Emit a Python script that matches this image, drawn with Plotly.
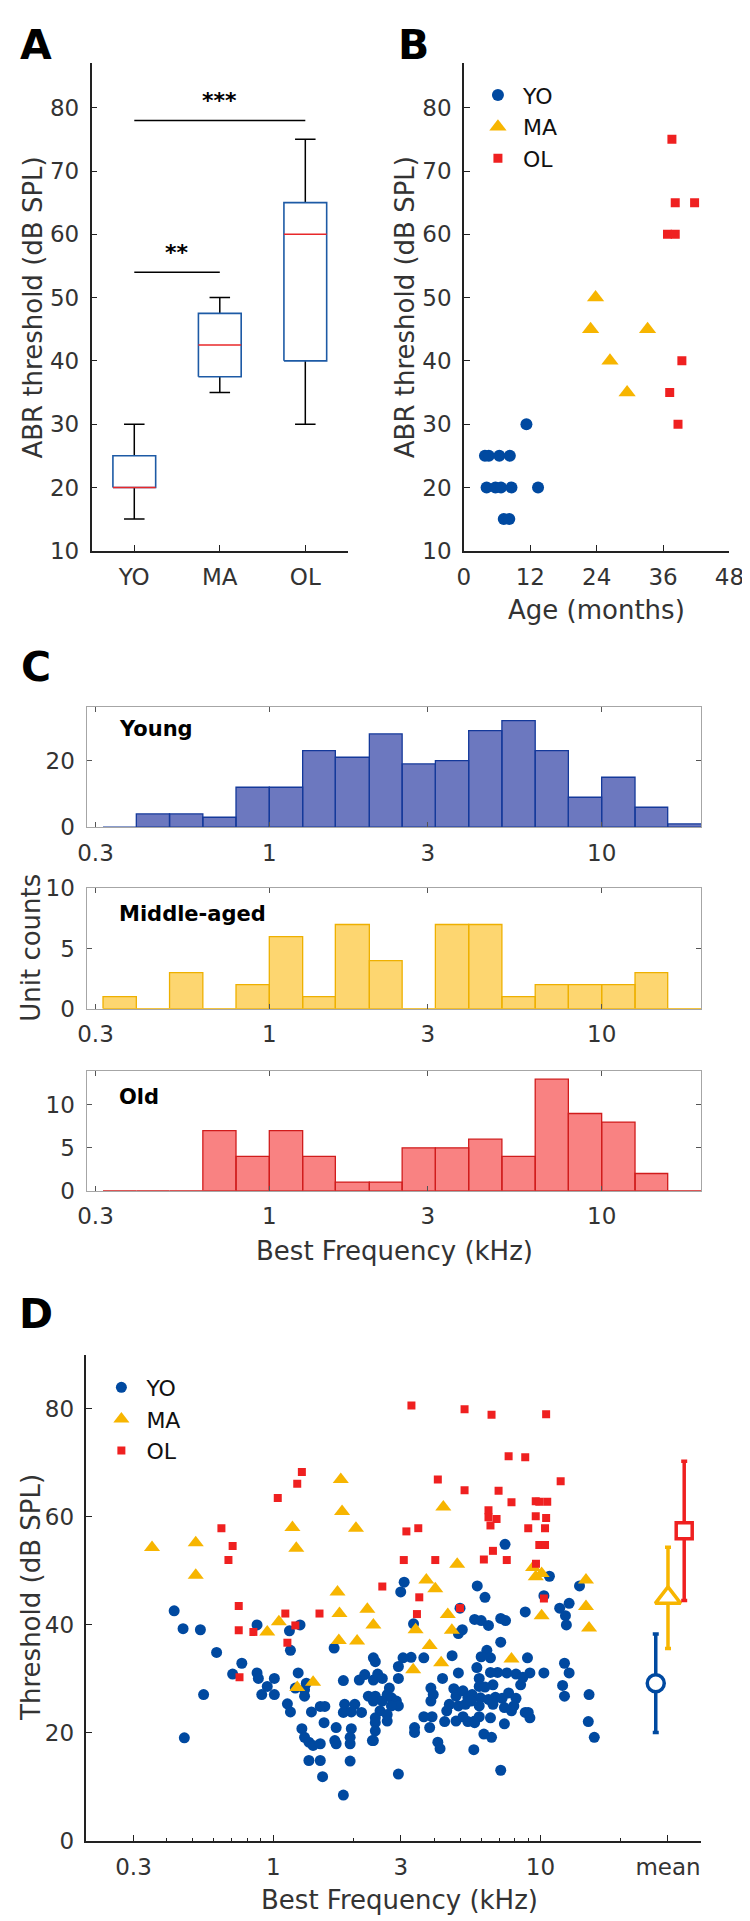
import numpy as np
import plotly.graph_objects as go

W, H = 750, 1921
FONT = "DejaVu Sans, Liberation Sans, Arial, sans-serif"
TXT = "#333333"
AX = "#222222"
C_YO, C_MA, C_OL = "#0049a0", "#f7b500", "#ef2020"
C_BOX = "#1d5aa5"

# ---------------- Panel A : ABR threshold box plot ----------------
groups = ["YO", "MA", "OL"]
box_q1 = [20, 37.5, 40]
box_med = [20, 42.5, 60]
box_q3 = [25, 47.5, 65]
box_lo = [15, 35, 30]
box_hi = [30, 50, 75]
sig_from = [1, 1]
sig_to = [2, 3]
sig_level = [54, 78]
sig_text = ["**", "***"]

# ---------------- Panel B : ABR threshold vs age ----------------
yo_age = [11.3, 3.8, 4.5, 6.4, 8.3, 4.1, 5.7, 6.7, 8.6, 13.4, 7.2, 8.2]
yo_abr = [30, 25, 25, 25, 25, 20, 20, 20, 20, 20, 15, 15]
ma_age = [23.8, 22.9, 33.2, 26.4, 29.5]
ma_abr = [50, 45, 45, 40, 35]
ol_age = [37.6, 38.2, 41.7, 36.8, 38.2, 39.4, 37.2, 38.7]
ol_abr = [75, 65, 65, 60, 60, 40, 35, 30]

# ---------------- Panel C : BF histograms ----------------
bin_edges_khz = [0.316, 0.398, 0.501, 0.631, 0.794, 1.0, 1.26, 1.58, 2.0, 2.51,
                 3.16, 3.98, 5.01, 6.31, 7.94, 10.0, 12.6, 15.8, 20.0]
young_counts = [0, 4, 4, 3, 12, 12, 23, 21, 28, 19, 20, 29, 32, 23, 9, 15, 6, 1]
middle_counts = [1, 0, 3, 0, 2, 6, 1, 7, 4, 0, 7, 7, 1, 2, 2, 2, 3, 0]
old_counts = [0, 0, 0, 7, 4, 7, 4, 1, 1, 5, 5, 6, 4, 13, 9, 8, 2, 0]

# ---------------- Panel D : threshold vs BF ----------------
yo_bf = [7.37, 3.09, 10.8, 5.8, 14.0, 3.0, 6.2, 10.3, 12.8, 11.8, 5.0, 8.77, 0.426, 7.1, 7.4, 5.67, 6.0, 6.39,
         12.4, 12.5, 3.35, 5.1, 4.93, 0.87, 1.26, 1.15, 0.46, 0.534, 1.16, 0.614, 1.69, 7.1, 6.3, 6.5, 6.0, 4.67,
         3.66, 3.28, 3.06, 2.37, 2.41, 8.94, 0.763, 12.3, 12.8, 10.3, 9.13, 8.1, 7.48, 6.91, 6.5, 5.78, 4.93,
         2.94, 1.24, 0.705, 0.87, 1.01, 0.88, 0.95, 0.906, 1.01, 0.549, 1.33, 1.31, 1.31, 1.83, 2.1, 2.2, 2.37,
         2.46, 2.56, 2.94, 2.72, 5.9, 6.64, 5.9, 6.2, 8.43, 8.6, 12.1, 12.3, 15.2, 7.6, 8.1, 3.89, 3.97, 3.89,
         4.3, 4.74, 4.83, 5.13, 5.35, 5.55, 5.96, 6.78, 7.19, 6.39, 4.56, 4.46, 4.93, 5.24, 5.5, 5.9, 6.64, 7.33,
         7.79, 7.95, 2.27, 2.41, 2.37, 2.56, 2.67, 2.77, 2.89, 2.94, 2.77, 2.51, 2.67, 2.41, 2.67, 2.41, 2.41,
         2.37, 1.85, 1.83, 2.02, 2.14, 1.96, 1.13, 1.16, 1.39, 1.50, 1.56, 1.55, 1.72, 1.28, 1.96, 3.93, 3.66,
         4.38, 4.83, 5.13, 5.35, 5.67, 5.9, 6.5, 9.13, 8.77, 7.33, 5.67, 3.38, 3.38, 3.85, 15.1, 1.31, 1.36,
         1.41, 1.50, 1.70, 1.72, 1.94, 1.94, 2.35, 4.13, 4.21, 6.14, 6.56, 5.63, 15.9, 0.465, 1.36, 1.50, 1.94,
         1.53, 2.94, 7.1, 1.83, 9.0, 1.21]
yo_thr = [54.9, 47.9, 49.0, 47.2, 47.2, 46.1, 45.1, 45.4, 44.0, 43.1, 43.1, 42.4, 42.6, 41.2, 40.8, 41.0, 40.8, 39.9,
          41.7, 40.0, 40.2, 39.1, 38.4, 40.0, 40.0, 38.9, 39.3, 39.1, 35.3, 34.9, 35.7, 36.8, 35.3, 33.9, 34.1, 34.3,
          33.9, 34.0, 33.9, 33.9, 33.2, 33.9, 32.9, 32.9, 31.1, 31.1, 31.1, 30.9, 31.1, 31.2, 31.2, 32.1, 31.1,
          32.3, 31.1, 30.9, 31.1, 30.1, 30.1, 28.6, 27.1, 27.1, 27.1, 29.2, 28.0, 26.8, 29.7, 29.8, 30.8, 29.8,
          30.9, 30.1, 30.1, 28.3, 30.1, 28.9, 28.6, 28.5, 28.9, 30.3, 28.8, 26.8, 27.1, 27.4, 26.4, 28.3, 27.1, 25.9,
          30.1, 28.2, 26.8, 27.8, 26.5, 27.1, 26.5, 26.6, 26.4, 26.2, 25.3, 24.1, 25.0, 25.3, 25.9, 25.0, 25.3, 24.7,
          24.1, 25.0, 26.8, 26.8, 25.9, 25.9, 27.1, 26.5, 25.9, 25.0, 25.0, 24.1, 23.4, 22.8, 22.2, 21.9, 20.4,
          18.6, 25.3, 23.8, 25.3, 23.8, 23.9, 25.4, 23.9, 23.9, 24.9, 24.9, 21.9, 21.0, 20.8, 20.8, 23.0, 23.0,
          22.1, 22.2, 23.0, 22.1, 22.2, 23.0, 22.8, 22.8, 23.8, 21.7, 21.9, 21.0, 20.1, 21.0, 22.1, 19.2, 18.3,
          17.7, 18.0, 18.6, 18.0, 18.0, 19.2, 18.6, 18.3, 17.1, 19.8, 19.2, 16.9, 19.2, 19.1, 14.9, 14.9, 14.8,
          11.9, 12.4, 13.1, 8.5, 23.8, 28.3]
ma_bf = [0.352, 0.513, 0.513, 1.18, 1.22, 1.79, 1.81, 2.04, 4.33, 4.88, 9.38, 9.6, 10.1, 14.8, 3.74, 4.04, 1.74,
         2.25, 1.77, 4.5, 14.8, 10.1, 1.05, 0.95, 2.37, 3.41, 4.66, 15.2, 1.76, 2.06, 3.85, 4.25, 7.79, 3.34, 1.41,
         1.23]
ma_thr = [54.3, 55.2, 49.2, 58.0, 54.2, 66.9, 61.0, 57.9, 61.8, 51.2, 50.6, 48.9, 49.5, 48.3, 48.3, 46.7, 46.1,
          42.9, 42.1, 41.9, 43.4, 41.7, 40.6, 38.7, 40.0, 39.1, 39.0, 39.4, 37.1, 37.0, 36.2, 33.0, 33.7, 31.7, 29.4,
          28.4]
ol_bf = [3.29, 5.2, 6.56, 10.5, 7.6, 8.77, 1.28, 1.23, 4.13, 11.9, 1.04, 5.2, 6.97, 7.79, 9.6, 9.9, 10.6, 6.39, 6.39,
         6.85, 9.6, 10.5, 0.64, 3.15, 3.49, 6.5, 9.0, 10.4, 0.705, 9.9, 10.4, 6.64, 0.68, 3.08, 4.04, 6.14, 7.48, 9.62,
         2.56, 3.52, 10.3, 5.0, 0.743, 1.11, 1.49, 3.45, 1.21, 0.743, 0.843, 1.13, 0.748]
ol_thr = [80.6, 79.9, 78.9, 79.0, 71.2, 71.0, 68.3, 66.1, 66.9, 66.6, 63.5, 64.9, 64.8, 62.7, 62.9, 62.8, 62.8, 61.2,
          59.9, 59.6, 60.1, 59.8, 57.9, 57.3, 57.9, 58.4, 57.9, 57.9, 54.6, 54.8, 54.8, 53.7, 52.0, 52.0, 52.0, 52.1,
          52.0, 51.3, 47.1, 45.1, 44.9, 43.1, 43.5, 42.1, 42.1, 42.0, 39.9, 39.0, 38.7, 36.7, 30.3]
mean_thr = [29.2, 45.0, 57.4]
mean_sd = [9.1, 9.35, 12.9]
mean_pos_khz = 30          # position of the "mean" column on the BF axis
mean_offset = [0.9, 1.0, 1.15]

# ---------------- helpers ----------------
def px(x):
    return x / W

def py(y):
    return 1 - y / H

fig = go.Figure()
TICK = 23

def axis(**kw):
    d = dict(showline=True, linecolor=AX, linewidth=1.5, ticks="inside", ticklen=6, tickwidth=1.3,
             tickcolor=AX, showgrid=False, zeroline=False, ticklabeloverflow="allow",
             tickfont=dict(family=FONT, size=TICK, color=TXT))
    d.update(kw)
    return d

# ---- Panel A drawing
bx, by, mx, my, wx, wy = [], [], [], [], [], []
hw, cw = 0.25, 0.12
for i in range(len(groups)):
    c = i + 1
    bx += [c - hw, c + hw, c + hw, c - hw, c - hw, None]
    by += [box_q1[i], box_q1[i], box_q3[i], box_q3[i], box_q1[i], None]
    mx += [c - hw, c + hw, None]
    my += [box_med[i], box_med[i], None]
    wx += [c, c, None, c, c, None, c - cw, c + cw, None, c - cw, c + cw, None]
    wy += [box_q3[i], box_hi[i], None, box_lo[i], box_q1[i], None,
           box_hi[i], box_hi[i], None, box_lo[i], box_lo[i], None]
fig.add_trace(go.Scatter(x=wx, y=wy, mode="lines", line=dict(color="black", width=1.5),
                         xaxis="x", yaxis="y", showlegend=False, hoverinfo="skip"))
fig.add_trace(go.Scatter(x=bx, y=by, mode="lines", line=dict(color=C_BOX, width=1.6),
                         xaxis="x", yaxis="y", showlegend=False, hoverinfo="skip"))
fig.add_trace(go.Scatter(x=mx, y=my, mode="lines", line=dict(color="#e8282a", width=1.5),
                         xaxis="x", yaxis="y", showlegend=False, hoverinfo="skip"))
sx, sy = [], []
for a, b, lv in zip(sig_from, sig_to, sig_level):
    sx += [a, b, None]
    sy += [lv, lv, None]
fig.add_trace(go.Scatter(x=sx, y=sy, mode="lines", line=dict(color="black", width=1.5),
                         xaxis="x", yaxis="y", showlegend=False, hoverinfo="skip"))
annotations = []
for a, b, lv, t in zip(sig_from, sig_to, sig_level, sig_text):
    annotations.append(dict(x=(a + b) / 2, y=lv + 0.8, xref="x", yref="y", text=f"<b>{t}</b>",
                            showarrow=False, yanchor="bottom",
                            font=dict(family=FONT, size=22, color="black")))

# ---- Panel B
fig.add_trace(go.Scatter(x=yo_age, y=yo_abr, mode="markers", name="YO",
                         marker=dict(symbol="circle", size=12, color=C_YO),
                         xaxis="x2", yaxis="y2", legend="legend"))
fig.add_trace(go.Scatter(x=ma_age, y=ma_abr, mode="markers", name="MA",
                         marker=dict(symbol="triangle-up", size=15, color=C_MA),
                         xaxis="x2", yaxis="y2", legend="legend"))
fig.add_trace(go.Scatter(x=ol_age, y=ol_abr, mode="markers", name="OL",
                         marker=dict(symbol="square", size=9, color=C_OL),
                         xaxis="x2", yaxis="y2", legend="legend"))

# ---- Panel C histograms
def hist_poly(counts):
    xs, ys = [], []
    for i, c in enumerate(counts):
        a, b = bin_edges_khz[i], bin_edges_khz[i + 1]
        xs += [a, a, b, b, a, None]
        ys += [0, c, c, 0, 0, None]
    return xs, ys

hist_specs = [(young_counts, "x3", "y3", "#6c78bf", "#14399a"),
              (middle_counts, "x4", "y4", "#fdd670", "#eeb000"),
              (old_counts, "x5", "y5", "#f98282", "#d01c1c")]
for counts, xa, ya, fc, lc in hist_specs:
    xs, ys = hist_poly(counts)
    fig.add_trace(go.Scatter(x=xs, y=ys, mode="lines", fill="toself", fillcolor=fc,
                             line=dict(color=lc, width=1.3), xaxis=xa, yaxis=ya,
                             showlegend=False, hoverinfo="skip"))

# ---- Panel D
fig.add_trace(go.Scatter(x=yo_bf, y=yo_thr, mode="markers", name="YO",
                         marker=dict(symbol="circle", size=11, color=C_YO),
                         xaxis="x6", yaxis="y6", legend="legend2"))
fig.add_trace(go.Scatter(x=ma_bf, y=ma_thr, mode="markers", name="MA",
                         marker=dict(symbol="triangle-up", size=14, color=C_MA),
                         xaxis="x6", yaxis="y6", legend="legend2"))
fig.add_trace(go.Scatter(x=ol_bf, y=ol_thr, mode="markers", name="OL",
                         marker=dict(symbol="square", size=8, color=C_OL),
                         xaxis="x6", yaxis="y6", legend="legend2"))
mean_syms = ["circle", "triangle-up", "square"]
mean_sizes = [17, 22, 16]
for k, (col, sym, sz) in enumerate(zip([C_YO, C_MA, C_OL], mean_syms, mean_sizes)):
    fig.add_trace(go.Scatter(x=[mean_pos_khz * mean_offset[k]], y=[mean_thr[k]], mode="markers",
                             marker=dict(symbol=sym, size=sz, color="white", line=dict(color=col, width=3.5)),
                             error_y=dict(type="data", array=[mean_sd[k]], color=col, thickness=3.5, width=3),
                             xaxis="x6", yaxis="y6", showlegend=False, hoverinfo="skip"))

# ---------------- layout / axes ----------------
yA = [py(537), py(43)]
LEG_FONT = dict(family=FONT, size=22, color="#111111")
layout = dict(
    width=W, height=H, margin=dict(l=0, r=0, t=0, b=0),
    paper_bgcolor="white", plot_bgcolor="rgba(0,0,0,0)",
    font=dict(family=FONT, color=TXT),
    xaxis=axis(domain=[px(77), px(342)], range=[0.5, 3.5], tickvals=[1, 2, 3], ticktext=groups,
               anchor="y", ticklabelstandoff=5),
    yaxis=axis(domain=yA, range=[10, 87], tickvals=[10, 20, 30, 40, 50, 60, 70, 80], anchor="x",
               ticklabelstandoff=6),
    xaxis2=axis(domain=[px(461.7), px(736)], range=[0, 48], tickvals=[0, 12, 24, 36, 48], anchor="y2",
                ticklabelstandoff=5),
    yaxis2=axis(domain=yA, range=[10, 87], tickvals=[10, 20, 30, 40, 50, 60, 70, 80], anchor="x2",
                ticklabelstandoff=6),
    xaxis6=axis(domain=[px(71.7), px(707)], type="log", range=[np.log10(0.2), np.log10(40)],
                tickvals=[0.3, 1, 3, 10, 30], ticktext=["0.3", "1", "3", "10", "mean"], anchor="y6",
                ticklabelstandoff=5,
                minor=dict(tickmode="array", tickvals=[0.4, 0.5, 0.6, 0.7, 0.8, 0.9, 2, 4, 5, 6, 7, 8, 9, 20],
                           ticks="inside", ticklen=3.5, tickwidth=1.2, tickcolor=AX)),
    yaxis6=axis(domain=[py(1845), py(1352)], range=[0, 90], tickvals=[0, 20, 40, 60, 80], anchor="x6",
                ticklabelstandoff=6),
    legend=dict(x=px(471), y=py(54), xanchor="left", yanchor="top", bgcolor="rgba(0,0,0,0)",
                font=LEG_FONT, borderwidth=0, itemwidth=40),
    legend2=dict(x=px(82), y=py(1364), xanchor="left", yanchor="top", bgcolor="rgba(0,0,0,0)",
                 font=LEG_FONT, borderwidth=0, itemwidth=40),
)
hist_y = [(817.3, 695.7, 36, [0, 20]), (1001.3, 879.3, 10, [0, 5, 10]), (1185.7, 1064, 14, [0, 5, 10])]
for j, (yb, yt, ymax, tv) in enumerate(hist_y):
    n = j + 3
    layout[f"xaxis{n}"] = axis(domain=[px(71.8), px(707)], type="log", range=[-0.55, 1.30],
                               tickvals=[0.3, 1, 3, 10], ticktext=["0.3", "1", "3", "10"],
                               anchor=f"y{n}", mirror="ticks", linecolor="#a6a6a6", linewidth=1.2,
                               tickcolor="#555555", ticklen=5, ticklabelstandoff=5)
    layout[f"yaxis{n}"] = axis(domain=[py(yb), py(yt)], range=[0, ymax], tickvals=tv, anchor=f"x{n}",
                               mirror="ticks", linecolor="#a6a6a6", linewidth=1.2,
                               tickcolor="#555555", ticklen=5, ticklabelstandoff=6)

def label(x, y, text, size=26, angle=0, bold=False, color=TXT, xanchor="center"):
    t = f"<b>{text}</b>" if bold else text
    annotations.append(dict(x=px(x), y=py(y), xref="paper", yref="paper", text=t, showarrow=False,
                            textangle=angle, xanchor=xanchor, yanchor="middle",
                            font=dict(family=FONT, size=size, color=color)))

# panel letters
for L, (x, y) in zip("ABCD", [(20, 24), (410, 24), (20, 655), (20, 1311)]):
    label(x, y, L, size=41, bold=True, color="black")
# axis titles
label(17, 290, "ABR threshold (dB SPL)", angle=-90)
label(401, 290, "ABR threshold (dB SPL)", angle=-90)
label(599, 597, "Age (months)")
label(15, 940, "Unit counts", angle=-90)
label(390, 1247, "Best Frequency (kHz)")
label(15, 1598, "Threshold (dB SPL)", angle=-90)
label(395, 1905, "Best Frequency (kHz)")
# histogram inner labels
label(103, 718, "Young", size=21, bold=True, color="black", xanchor="left")
label(103, 905, "Middle-aged", size=21, bold=True, color="black", xanchor="left")
label(103, 1091, "Old", size=21, bold=True, color="black", xanchor="left")

layout["annotations"] = annotations
fig.update_layout(**layout)
fig.write_html("out.html")
